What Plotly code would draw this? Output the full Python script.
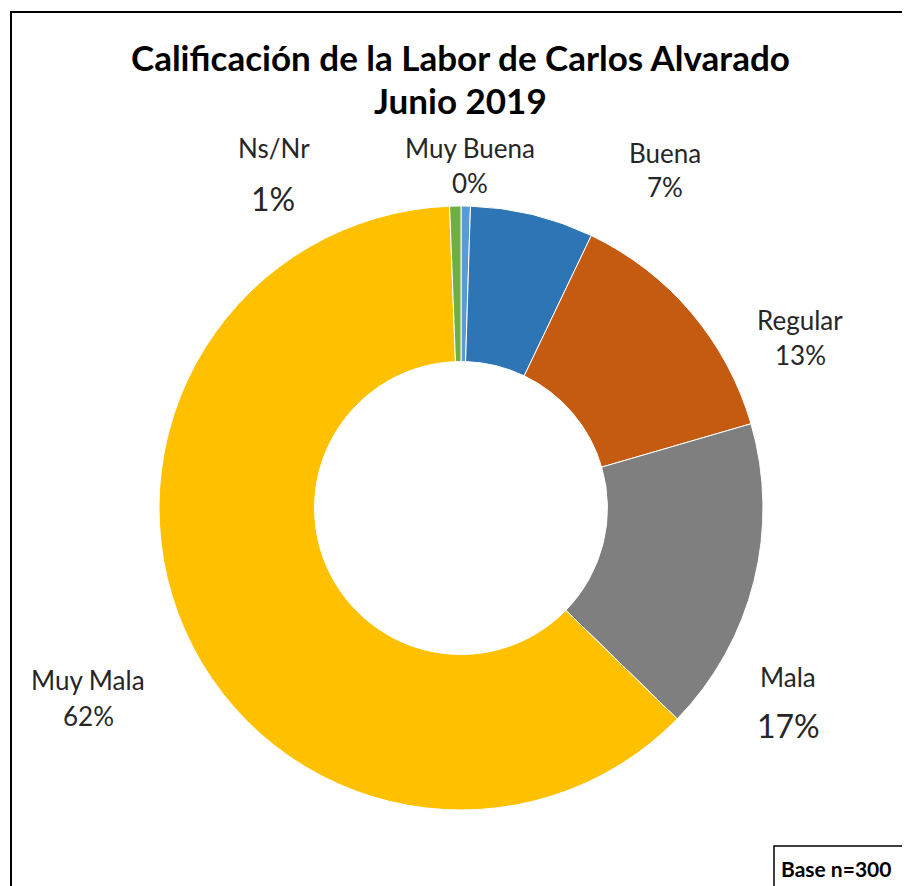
import plotly.graph_objects as go

categories = ["Muy Buena", "Buena", "Regular", "Mala", "Muy Mala", "Ns/Nr"]
shares = [0.5, 6.6, 13.4, 16.8, 62.1, 0.6]
pct_labels = ["0%", "7%", "13%", "17%", "62%", "1%"]
colors = ["#5B9BD5", "#2E75B6", "#C55A11", "#7F7F7F", "#FFC000", "#70AD47"]

W, H = 910, 886
OFF = 8  # page body margin


def px(x):
    return (x - OFF) / W


def py(y):
    return 1 - (y - OFF) / H


fig = go.Figure()
fig.add_trace(go.Pie(
    labels=categories, values=shares, sort=False, direction="clockwise", rotation=0,
    hole=0.485, textinfo="none", hoverinfo="label+percent",
    marker=dict(colors=colors, line=dict(color="white", width=1)),
    domain=dict(x=[px(159), px(763)], y=[py(810), py(206)]),
    showlegend=False,
))

# label positions (name center, pct center, name size, pct size)
label_pos = {
    "Ns/Nr": ((274, 148), (273, 198), 26, 32),
    "Muy Buena": ((470, 148), (470, 183), 26, 26),
    "Buena": ((665, 153), (665, 187), 26, 26),
    "Regular": ((800, 320), (800, 355), 26, 26),
    "Mala": ((788, 677), (788, 725), 26, 32),
    "Muy Mala": ((88, 680), (88, 716), 26, 26),
}
font_family = "Lato, Open Sans, sans-serif"
for cat, pct in zip(categories, pct_labels):
    (nx, ny), (qx, qy), ns, qs = label_pos[cat]
    fig.add_annotation(x=px(nx), y=py(ny), xref="paper", yref="paper", text=cat,
                       xanchor="center", yanchor="middle",
                       showarrow=False, font=dict(size=ns, color="#262626", family=font_family))
    fig.add_annotation(x=px(qx), y=py(qy), xref="paper", yref="paper", text=pct,
                       xanchor="center", yanchor="middle",
                       showarrow=False, font=dict(size=qs, color="#262626", family=font_family))

title_lines = ["Calificación de la Labor de Carlos Alvarado", "Junio 2019"]
for line, ty in zip(title_lines, [57, 100]):
    fig.add_annotation(x=px(460), y=py(ty), xref="paper", yref="paper",
                       xanchor="center", yanchor="middle",
                       text="<b>" + line + "</b>", showarrow=False,
                       font=dict(size=35, color="black", family=font_family))

fig.add_annotation(x=px(779), y=py(868), xref="paper", yref="paper",
                   xanchor="left", yanchor="middle",
                   text="<b>Base n=300</b>", showarrow=False,
                   font=dict(size=21, color="black", family=font_family))

fig.add_shape(type="rect", xref="paper", yref="paper",
              x0=px(11), x1=px(940), y0=py(12), y1=py(940),
              line=dict(color="black", width=2))
fig.add_shape(type="rect", xref="paper", yref="paper",
              x0=px(774), x1=px(940), y0=py(846), y1=py(940),
              line=dict(color="black", width=1.5))

fig.update_layout(width=W, height=H, margin=dict(l=0, r=0, t=0, b=0),
                  paper_bgcolor="white", plot_bgcolor="white")
fig.write_html("out.html")
